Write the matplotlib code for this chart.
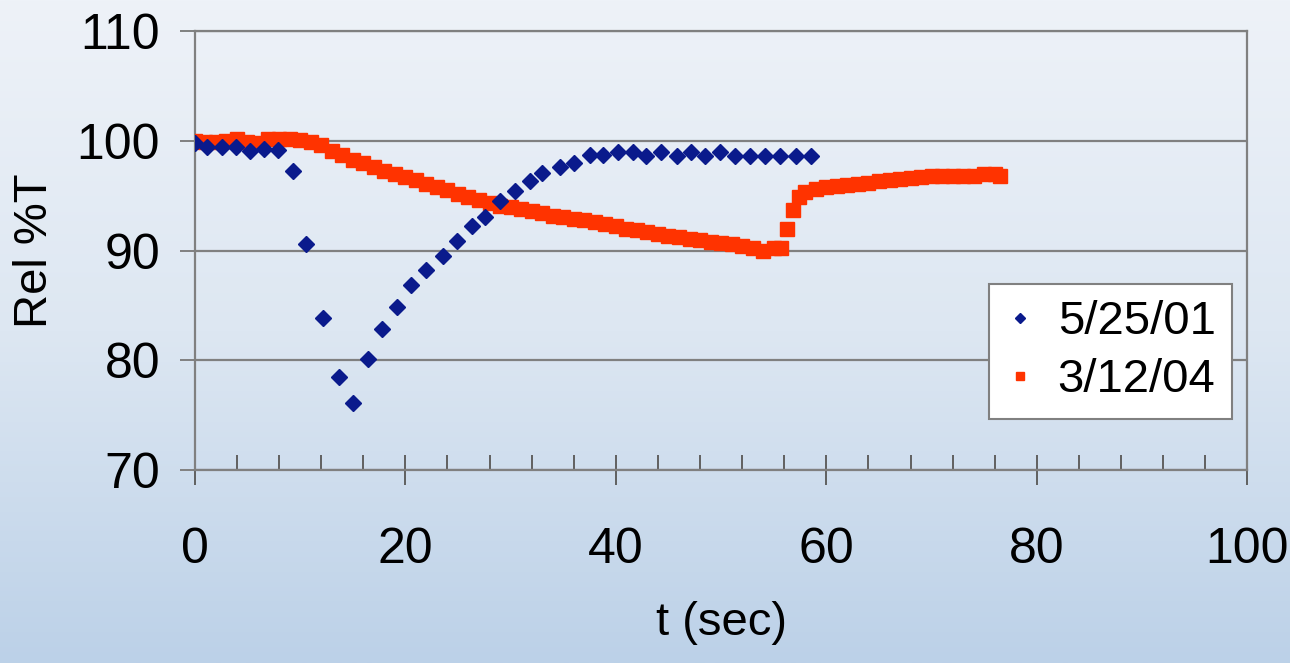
import numpy as np
import matplotlib
matplotlib.use('Agg')
from matplotlib import pyplot as plt
from matplotlib.ticker import MultipleLocator
from matplotlib.colors import LinearSegmentedColormap

plt.rcParams['font.family'] = ['Liberation Sans', 'DejaVu Sans']

# series 5/25/01 (diamonds)
t_a = [0.0, 1.2, 2.6, 3.9, 5.2, 6.6, 7.9, 9.3, 10.6, 12.2, 13.7, 15.0, 16.5,
       17.8, 19.2, 20.5, 22.0, 23.6, 24.9, 26.3, 27.6, 29.0, 30.4, 31.8, 33.0,
       34.7, 36.0, 37.5, 38.8, 40.2, 41.6, 42.9, 44.3, 45.8, 47.1, 48.5, 49.9,
       51.3, 52.7, 54.2, 55.6, 57.1, 58.5]
y_a = [99.8, 99.4, 99.4, 99.4, 99.1, 99.3, 99.2, 97.3, 90.6, 83.9, 78.5, 76.1, 80.1,
       82.9, 84.9, 86.9, 88.2, 89.5, 90.9, 92.2, 93.1, 94.5, 95.4, 96.3, 97.1,
       97.6, 98.0, 98.7, 98.7, 99.0, 99.0, 98.6, 99.0, 98.6, 99.0, 98.6, 99.0,
       98.6, 98.6, 98.6, 98.6, 98.6, 98.6]

# series 3/12/04 (squares)
t_b = [0, 1, 2, 3, 4, 5, 6, 7, 8, 9, 10, 11, 12, 13, 14, 15, 16, 17, 18, 19,
       20, 21, 22, 23, 24, 25, 26, 27, 28, 29, 30, 31, 32, 33, 34, 35, 36, 37,
       38, 39, 40, 41, 42, 43, 44, 45, 46, 47, 48, 49, 50, 51, 52, 53, 54, 55,
       55.7, 56.3, 56.8, 57.4, 58, 59, 60, 61, 62, 63, 64, 65, 66, 67, 68, 69,
       70, 71, 72, 73, 74, 75, 76, 76.5]
y_b = [100.0, 99.9, 99.9, 100.0, 100.2, 99.9, 99.8, 100.2, 100.2, 100.2, 100.1,
       99.9, 99.6, 99.1, 98.7, 98.3, 98.0, 97.6, 97.3, 97.0, 96.7, 96.4, 96.1,
       95.8, 95.5, 95.2, 94.9, 94.6, 94.3, 94.1, 94.0, 93.8, 93.6, 93.4, 93.2,
       93.1, 92.9, 92.8, 92.6, 92.4, 92.2, 92.0, 91.9, 91.7, 91.5, 91.3, 91.2,
       91.1, 91.0, 90.8, 90.7, 90.6, 90.4, 90.2, 90.0, 90.2, 90.2, 92.0, 93.7,
       94.9, 95.3, 95.6, 95.8, 95.9, 96.0, 96.1, 96.2, 96.3, 96.4, 96.5, 96.6,
       96.7, 96.8, 96.8, 96.8, 96.8, 96.8, 97.0, 97.0, 96.8]

labels = ['5/25/01', '3/12/04']

fig = plt.figure(figsize=(12.9, 6.63), dpi=100)

# gradient background
bg = fig.add_axes([0, 0, 1, 1], zorder=-10)
cmap = LinearSegmentedColormap.from_list('bg', ['#eef2f8', '#dde7f2', '#bcd1e8'])
bg.imshow(np.linspace(0, 1, 256).reshape(-1, 1), aspect='auto', cmap=cmap,
          extent=[0, 1, 0, 1])
bg.axis('off')

ax = fig.add_axes([0.151, 0.291, 0.816, 0.662])
ax.set_facecolor('none')

ax.plot(t_b, y_b, ls='none', marker='s', ms=10.5, color='#ff3300',
        mec='#ff3300', label=labels[1], zorder=3)
ax.plot(t_a, y_a, ls='none', marker='D', ms=8.5, color='#0a1a8c',
        mec='#0a1a8c', label=labels[0], zorder=4)

ax.set_xlim(0, 100)
ax.set_ylim(70, 110)
ax.xaxis.set_major_locator(MultipleLocator(20))
ax.xaxis.set_minor_locator(MultipleLocator(4))
ax.yaxis.set_major_locator(MultipleLocator(10))

ax.grid(axis='y', color='#808080', lw=1.6)
for s in ax.spines.values():
    s.set_color('#808080')
    s.set_linewidth(1.6)

ax.tick_params(axis='x', which='major', direction='inout', length=22,
               width=1.4, color='#606060', labelsize=36, pad=30)
ax.tick_params(axis='x', which='minor', direction='in', length=11,
               width=1.4, color='#606060')
ax.tick_params(axis='y', which='major', direction='out', length=11,
               width=1.4, color='#808080', labelsize=36, pad=14)

ax.set_xlabel('t (sec)', fontsize=34, labelpad=20)
ax.set_ylabel('Rel %T', fontsize=34, labelpad=14)

h, l = ax.get_legend_handles_labels()
leg = ax.legend(h[::-1], l[::-1], loc='center', bbox_to_anchor=(0.87, 0.271),
                fontsize=34, frameon=True, fancybox=False, framealpha=1,
                edgecolor='#808080', handlelength=0.6, handletextpad=0.5,
                borderpad=0.35, labelspacing=0.3, markerscale=0.6)
leg.get_frame().set_linewidth(1.5)

fig.savefig('out.png', dpi=100)
